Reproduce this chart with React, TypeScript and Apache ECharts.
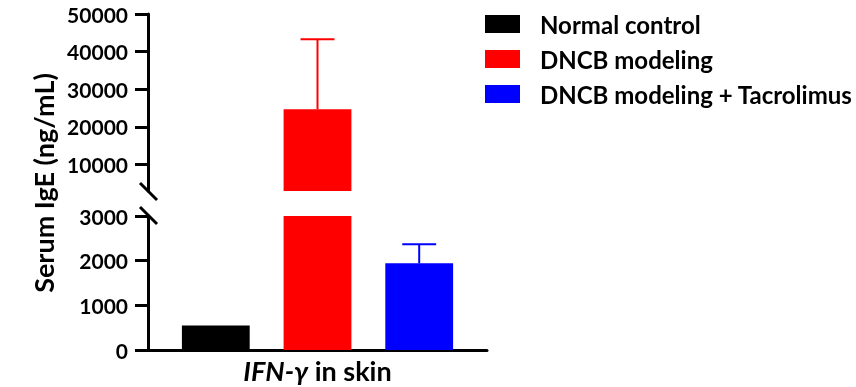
import React, { useEffect, useRef } from "react";
import * as echarts from "echarts";

const groups = ["Normal control", "DNCB modeling", "DNCB modeling + Tacrolimus"];
const means = [550, 24700, 1940];
const sds = [0, 18600, 430];
const colors = ["#000000", "#ff0000", "#0000ff"];
const category = ["IFN-γ in skin"];
const lowerTicks = [0, 1000, 2000, 3000];
const upperTicks = [10000, 20000, 30000, 40000, 50000];
const lowerRange = [0, 3000];
const upperRange = [3000, 50000];

const FONT = "Lato";

export default function App() {
  const ref = useRef<HTMLDivElement>(null);
  useEffect(() => {
    if (!ref.current) return;
    const chart = echarts.init(ref.current, undefined, { renderer: "svg" });
    const axisLine = { show: true, lineStyle: { color: "#000", width: 3 } };
    const axisTick = { show: true, length: 13, lineStyle: { color: "#000", width: 3 } };
    const axisLabelStyle = {
      color: "#000", fontFamily: FONT, fontWeight: "bold" as const, fontSize: 21, margin: 20,
      formatter: (v: number) => String(v),
    };

    const series: any[] = [];
    groups.forEach((g, i) => {
      series.push({
        type: "bar", name: g, xAxisIndex: 0, yAxisIndex: 0,
        data: [means[i] > lowerRange[1] ? means[i] : null],
        itemStyle: { color: colors[i] }, barWidth: "20%", barGap: "50%",
      });
    });
    groups.forEach((g, i) => {
      series.push({
        type: "bar", name: g, xAxisIndex: 1, yAxisIndex: 1,
        data: [means[i]],
        itemStyle: { color: colors[i] }, barWidth: "20%", barGap: "50%",
      });
    });

    const errItems = (grid: number) =>
      groups
        .map((_, i) => ({ i, top: means[i] + sds[i] }))
        .filter((e) => sds[e.i] > 0 && (grid === 0 ? e.top > lowerRange[1] : e.top <= lowerRange[1]))
        .map((e) => [0, means[e.i], e.top, e.i]);

    [0, 1].forEach((gIdx) => {
      series.push({
        type: "custom",
        xAxisIndex: gIdx, yAxisIndex: gIdx,
        data: errItems(gIdx),
        encode: { x: 0, y: [1, 2] },
        z: 1,
        renderItem: (params: any, api: any) => {
          const idx = api.value(3);
          const bw = api.size([1, 0])[0];
          const off = (idx - 1) * 0.3 * bw;
          const b = api.coord([api.value(0), api.value(1)]);
          const t = api.coord([api.value(0), api.value(2)]);
          const x = b[0] + off;
          const cap = 0.1 * bw / 2;
          const style = { stroke: colors[idx], lineWidth: 2 };
          return {
            type: "group",
            children: [
              { type: "line", shape: { x1: x, y1: b[1], x2: x, y2: t[1] }, style },
              { type: "line", shape: { x1: x - cap, y1: t[1], x2: x + cap, y2: t[1] }, style },
            ],
          };
        },
      });
    });

    chart.setOption({
      animation: false,
      legend: {
        data: groups,
        left: 485, top: 12, orient: "vertical", padding: 0,
        itemWidth: 35, itemHeight: 18, itemGap: 11,
        icon: "rect",
        textStyle: { color: "#000", fontFamily: FONT, fontWeight: "bold", fontSize: 24, padding: [0, 0, 0, 15] },
      },
      grid: [
        { left: 148, right: 369, top: 14, height: 177 },
        { left: 148, right: 369, top: 216, height: 134 },
      ],
      xAxis: [
        { type: "category", gridIndex: 0, data: category, show: false },
        {
          type: "category", gridIndex: 1, data: category,
          axisLine, axisTick: { show: false }, axisLabel: { show: false },
          name: "{i|IFN-γ} {n|in skin}", nameLocation: "middle", nameGap: 7,
          nameTextStyle: {
            color: "#000", fontFamily: FONT, fontWeight: "bold", fontSize: 27,
            rich: {
              i: { fontStyle: "italic", fontFamily: FONT, fontWeight: "bold", fontSize: 27, color: "#000" },
              n: { fontFamily: FONT, fontWeight: "bold", fontSize: 27, color: "#000" },
            },
          },
        },
      ],
      yAxis: [
        {
          type: "value", gridIndex: 0, min: upperRange[0], max: upperRange[1],
          axisLine, splitLine: { show: false },
          axisTick: { ...axisTick, customValues: upperTicks },
          axisLabel: { ...axisLabelStyle, customValues: upperTicks },
        },
        {
          type: "value", gridIndex: 1, min: lowerRange[0], max: lowerRange[1], interval: 1000,
          axisLine, splitLine: { show: false },
          axisTick: { ...axisTick, customValues: lowerTicks },
          axisLabel: { ...axisLabelStyle, customValues: lowerTicks },
        },
      ],
      graphic: [
        { type: "line", shape: { x1: 140, y1: 183, x2: 157, y2: 200 }, style: { stroke: "#000", lineWidth: 3 } },
        { type: "line", shape: { x1: 140, y1: 207, x2: 157, y2: 224 }, style: { stroke: "#000", lineWidth: 3 } },
        {
          type: "text", x: 43, y: 183, rotation: Math.PI / 2,
          style: {
            text: "Serum IgE (ng/mL)", fill: "#000",
            font: `bold 27px ${FONT}`, textAlign: "center", textVerticalAlign: "middle",
            align: "center", verticalAlign: "middle",
          },
        },
      ],
      series,
    });
    return () => chart.dispose();
  }, []);
  return <div ref={ref} style={{ position: "fixed", left: 0, top: 0, width: 856, height: 387 }} />;
}
